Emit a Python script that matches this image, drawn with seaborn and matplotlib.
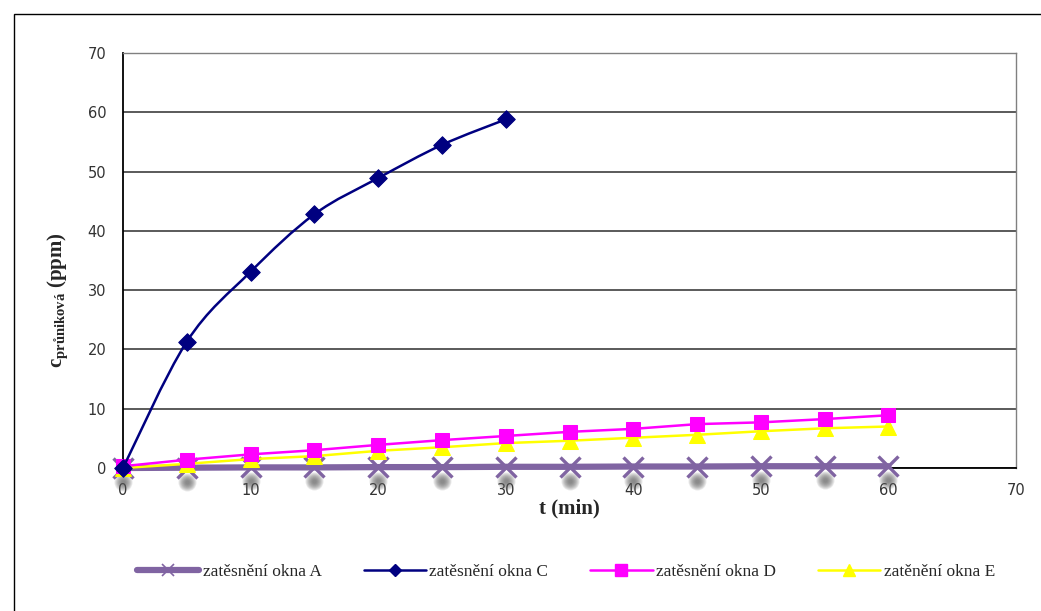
import numpy as np
import pandas as pd
import matplotlib
matplotlib.use("Agg")
import matplotlib.pyplot as plt
import matplotlib.transforms as mtransforms
from matplotlib.path import Path
from matplotlib.patches import PathPatch, Rectangle
from matplotlib.lines import Line2D
import seaborn as sns

# measurement times (min)
t_long = [0, 5, 10, 15, 20, 25, 30, 35, 40, 45, 50, 55, 60]
t_short = [0, 5, 10, 15, 20, 25, 30]

# average penetrating concentration (ppm)
okno_a = [0.0, 0.05, 0.1, 0.1, 0.15, 0.15, 0.2, 0.2, 0.25, 0.25, 0.3, 0.3, 0.3]
okno_c = [0.0, 21.3, 33.1, 42.8, 48.9, 54.5, 58.8]
okno_d = [0.3, 1.4, 2.3, 3.0, 3.9, 4.7, 5.4, 6.1, 6.6, 7.4, 7.7, 8.25, 8.9]
okno_e = [0.0, 0.7, 1.5, 2.0, 2.9, 3.5, 4.2, 4.6, 5.1, 5.6, 6.2, 6.7, 7.0]

labels = ["zatěsnění okna A", "zatěsnění okna C", "zatěsnění okna D", "zatěnění okna E"]
x_ticks = [0, 10, 20, 30, 40, 50, 60, 70]
y_ticks = [0, 10, 20, 30, 40, 50, 60, 70]

col_a = "#8064A2"
col_c = "#000080"
col_d = "#FF00FF"
col_e = "#FFFF00"

sns.set_theme(style="white")
plt.rcParams["font.family"] = ["DejaVu Sans"]
plt.rcParams["mathtext.fontset"] = "custom"
plt.rcParams["mathtext.rm"] = "Liberation Serif"
plt.rcParams["mathtext.bf"] = "Liberation Serif:bold"

fig = plt.figure(figsize=(10.41, 6.11), dpi=100)
fig.patch.set_facecolor("white")
fig.patches.append(Rectangle((14 / 1041, -0.1), 1.2, 1 - 14 / 611 + 0.1,
                             transform=fig.transFigure, fill=False,
                             edgecolor="black", linewidth=1.0))

ax = fig.add_axes([123 / 1041, 1 - 468 / 611, (1016 - 123) / 1041, (468 - 53) / 611])

df_a = pd.DataFrame({"t": t_long, "c": okno_a})
df_c = pd.DataFrame({"t": t_short, "c": okno_c})
df_d = pd.DataFrame({"t": t_long, "c": okno_d})
df_e = pd.DataFrame({"t": t_long, "c": okno_e})

# soft shadows under the A markers (stacked translucent discs)
shadow_shift = ax.transData + mtransforms.ScaledTranslation(0, -0.14, fig.dpi_scale_trans)
for r in np.linspace(13, 3, 9):
    sns.scatterplot(data=df_a, x="t", y="c", ax=ax, s=r ** 2, color="#5a5a5a",
                    alpha=0.12, linewidth=0, marker="o", zorder=2, legend=False)
for coll in ax.collections:
    coll.set_offset_transform(shadow_shift)
    coll.set_clip_on(False)

# series A: thick purple line with x markers
sns.lineplot(data=df_a, x="t", y="c", ax=ax, color=col_a, linewidth=4.5,
             marker="x", markersize=14, markeredgewidth=2.4,
             markeredgecolor=col_a, zorder=3, legend=False, clip_on=False)

# series E and D
sns.lineplot(data=df_e, x="t", y="c", ax=ax, color=col_e, linewidth=1.8,
             marker="^", markersize=11, markeredgecolor=col_e,
             zorder=4, legend=False, clip_on=False)
sns.lineplot(data=df_d, x="t", y="c", ax=ax, color=col_d, linewidth=1.8,
             marker="s", markersize=10, markeredgecolor=col_d,
             zorder=5, legend=False, clip_on=False)

# series C: smoothed curve through the points (Catmull-Rom as cubic Bezier)
pts = np.column_stack([np.asarray(t_short, float), np.asarray(okno_c, float)])
ext = np.vstack([pts[0], pts, pts[-1]])
verts = [tuple(pts[0])]
codes = [Path.MOVETO]
for i in range(len(pts) - 1):
    p0, p1, p2, p3 = ext[i], ext[i + 1], ext[i + 2], ext[i + 3]
    c1 = p1 + (p2 - p0) / 6.0
    c2 = p2 - (p3 - p1) / 6.0
    verts += [tuple(c1), tuple(c2), tuple(p2)]
    codes += [Path.CURVE4] * 3
ax.add_patch(PathPatch(Path(verts, codes), facecolor="none", edgecolor=col_c,
                       linewidth=1.8, zorder=6, clip_on=False))
sns.scatterplot(data=df_c, x="t", y="c", ax=ax, marker="D", s=80,
                color=col_c, edgecolor=col_c, zorder=7, legend=False,
                clip_on=False)

ax.set_xlim(0, 70)
ax.set_ylim(0, 70)
ax.set_xticks(x_ticks)
ax.set_yticks(y_ticks)
ax.set_xticklabels([str(v) for v in x_ticks])
ax.set_yticklabels([str(v) for v in y_ticks])
ax.tick_params(axis="both", labelsize=10.5, colors="#000000", direction="out",
               length=5, width=1.0, pad=6)
ax.tick_params(axis="y", pad=7)
for lab in ax.get_xticklabels() + ax.get_yticklabels():
    lab.set_color("#333333")
    lab.set_zorder(10)

ax.yaxis.grid(True, color="#4d4d4d", linewidth=1.3)
ax.xaxis.grid(False)
ax.set_axisbelow(True)
for side in ["top", "right"]:
    ax.spines[side].set_color("#808080")
    ax.spines[side].set_linewidth(1.0)
ax.spines["left"].set_color("black")
ax.spines["bottom"].set_color("black")
ax.spines["left"].set_linewidth(1.3)
ax.spines["bottom"].set_linewidth(1.3)
for s in ax.spines.values():
    s.set_zorder(1)

ax.set_xlabel("t (min)", fontsize=15, fontweight="bold",
              family=["Liberation Serif"], labelpad=0)
ax.set_ylabel(r"$\mathbf{c}_{\mathbf{průniková}}$ (ppm)", fontsize=15,
              fontweight="bold", family=["Liberation Serif"])
ax.yaxis.set_label_coords(-0.058, 0.405)

handles = [
    Line2D([], [], color=col_a, linewidth=4.5, marker="x", markersize=8,
           markeredgewidth=1.2, markeredgecolor=col_a),
    Line2D([], [], color=col_c, linewidth=1.8, marker="D", markersize=6),
    Line2D([], [], color=col_d, linewidth=1.8, marker="s", markersize=8),
    Line2D([], [], color=col_e, linewidth=1.8, marker="^", markersize=8),
]
fig.legend(handles, labels, loc="center", bbox_to_anchor=(566 / 1041, 1 - 572 / 611),
           ncol=4, frameon=False, handlelength=3.6, handletextpad=0.2,
           columnspacing=2.4, prop={"family": "Liberation Serif", "size": 12.5})

fig.savefig("out.png", dpi=100, facecolor="white")
